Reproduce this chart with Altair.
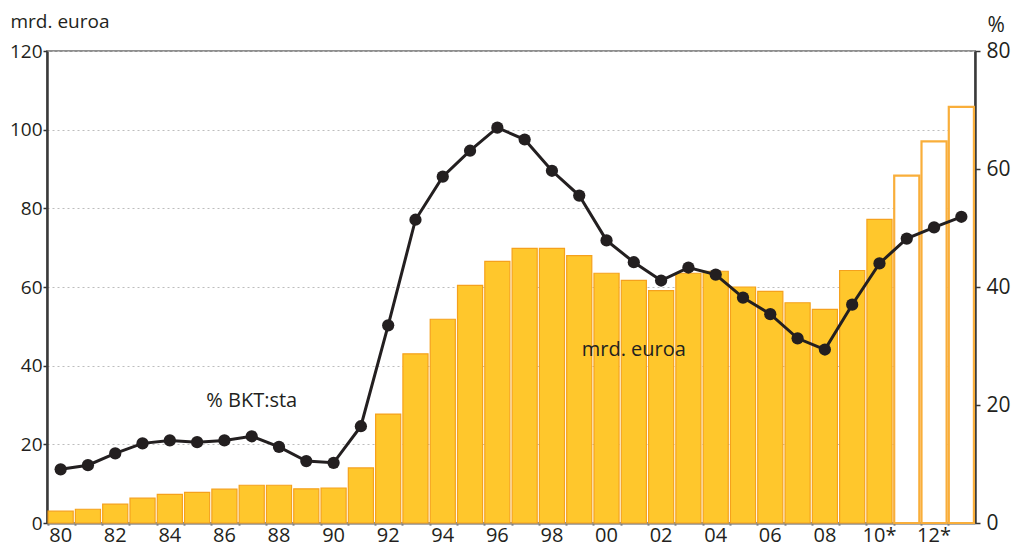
import altair as alt
import pandas as pd

years = list(range(1980, 2014))
debt_bn = [3.0, 3.5, 4.8, 6.3, 7.3, 7.8, 8.6, 9.6, 9.6, 8.7, 8.9, 14.0,
           27.7, 43.0, 51.8, 60.4, 66.5, 69.8, 69.8, 68.0, 63.5, 61.7,
           59.1, 63.5, 64.0, 60.0, 58.9, 56.0, 54.3, 64.2, 77.2, 88.3,
           97.0, 105.8]
debt_pct = [9.1, 9.8, 11.8, 13.5, 14.0, 13.7, 14.0, 14.7, 12.9, 10.5, 10.2,
            16.4, 33.5, 51.4, 58.7, 63.1, 67.0, 65.0, 59.7, 55.5, 47.9, 44.2,
            41.1, 43.3, 42.1, 38.2, 35.4, 31.3, 29.4, 37.0, 44.0, 48.2, 50.1,
            51.9]
forecast_from = 2011

ann_text = ["% BKT:sta", "mrd. euroa"]
ann_year = [1987, 2001]
ann_value = [31.0, 44.0]

df = pd.DataFrame({"year": years, "bn": debt_bn, "pct": debt_pct})
df["forecast"] = df["year"] >= forecast_from
ann = pd.DataFrame({"text": ann_text, "year": ann_year, "bn": ann_value})

FONT = "Open Sans"
TXT = "#231F20"

x_enc = alt.X(
    "year:O",
    scale=alt.Scale(paddingInner=0.08, paddingOuter=0.04),
    axis=alt.Axis(
        title=None,
        labelExpr="datum.value % 2 == 0 ? slice(toString(datum.value), 2) + (datum.value >= 2010 ? '*' : '') : ''",
        labelAngle=0,
        labelFontSize=20,
        labelColor=TXT,
        labelPadding=0,
        tickSize=2,
        tickColor="#555555",
        tickWidth=2,
        bandPosition=0,
        domainColor="#8f8f8f",
        domainWidth=2.5,
        grid=False,
    ),
)

left_axis = alt.Axis(
    title="mrd. euroa",
    titleAngle=0,
    titleAlign="left",
    titleBaseline="alphabetic",
    titleX=-37,
    titleY=-24,
    titleFontSize=19,
    titleFontWeight="normal",
    titleColor=TXT,
    values=[0, 20, 40, 60, 80, 100, 120],
    labelFontSize=19,
    labelColor=TXT,
    labelPadding=1,
    tickSize=4,
    tickColor="#333333",
    tickWidth=1.5,
    domainColor="#3a3a3a",
    domainWidth=2.5,
    grid=True,
    gridColor="#bdbdbd",
    gridDash=[2, 3],
    gridWidth=1,
)

right_axis = alt.Axis(
    orient="right",
    title="%",
    titleAngle=0,
    titleAlign="left",
    titleBaseline="alphabetic",
    titleX=12,
    titleY=-20,
    titleFontSize=21,
    titleFontWeight="normal",
    titleColor=TXT,
    values=[0, 20, 40, 60, 80],
    labelFontSize=21,
    labelColor=TXT,
    labelPadding=6,
    tickSize=5,
    tickColor="#333333",
    tickWidth=1.5,
    domainColor="#3a3a3a",
    domainWidth=2.5,
    grid=False,
)

y_left = alt.Scale(domain=[0, 120], nice=False)
y_right = alt.Scale(domain=[0, 80], nice=False)

bars = alt.Chart(df).mark_bar().encode(
    x=x_enc,
    y=alt.Y("bn:Q", scale=y_left, axis=left_axis),
    fill=alt.condition("datum.forecast", alt.value("#FFFFFF"), alt.value("#FFC72C")),
    stroke=alt.condition("datum.forecast", alt.value("#F9AE3A"), alt.value("#F5A11C")),
    strokeWidth=alt.condition("datum.forecast", alt.value(2.2), alt.value(1.2)),
)

labels = alt.Chart(ann).mark_text(font=FONT, fontSize=20, color=TXT).encode(
    x=alt.X("year:O"),
    y=alt.Y("bn:Q", scale=y_left, axis=left_axis),
    text="text:N",
)

line = alt.Chart(df).mark_line(color=TXT, strokeWidth=3).encode(
    x=alt.X("year:O"),
    y=alt.Y("pct:Q", scale=y_right, axis=right_axis),
)

points = alt.Chart(df).mark_point(filled=True, color=TXT, size=150, opacity=1).encode(
    x=alt.X("year:O"),
    y=alt.Y("pct:Q", scale=y_right, axis=right_axis),
)

chart = (
    alt.layer(alt.layer(bars, labels), alt.layer(line, points))
    .resolve_scale(y="independent")
    .properties(
        width=928,
        height=472,
        autosize=alt.AutoSizeParams(type="none"),
        padding={"left": 39, "top": 43, "right": 37, "bottom": 24},
    )
    .configure(font=FONT)
    .configure_view(stroke="#8f8f8f", strokeWidth=2)
)

chart.save("out.html", embed_options={"renderer": "svg", "actions": False})
